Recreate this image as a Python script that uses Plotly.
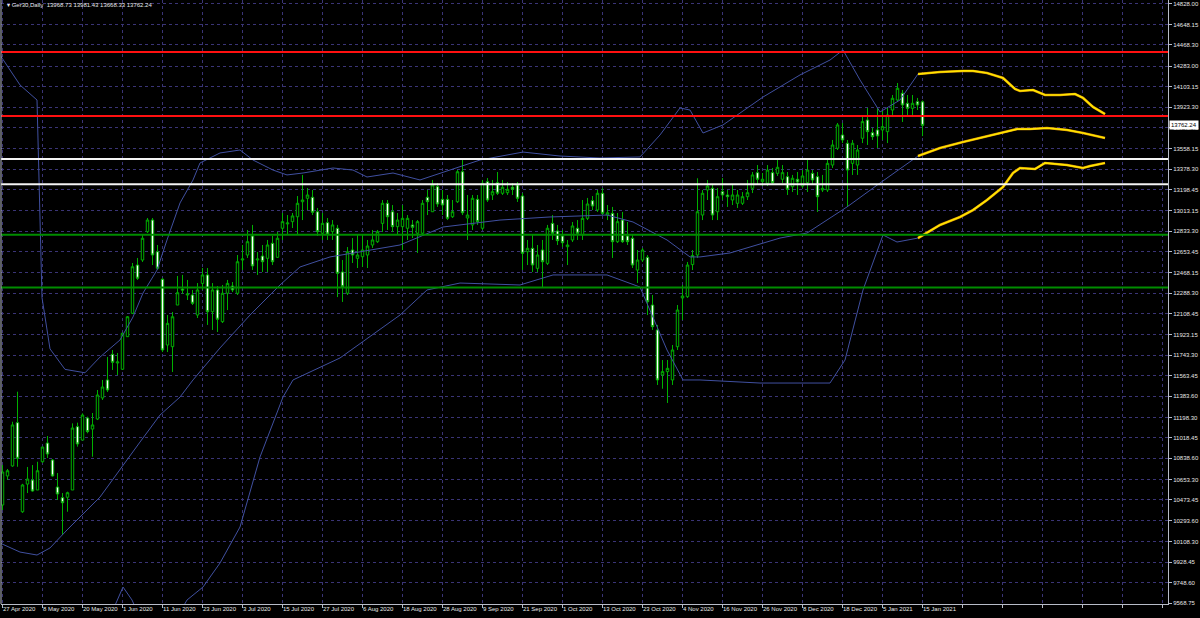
import plotly.graph_objects as go

# ---------------- data ----------------
title_text = "\u25be Ger30,Daily  13968.73 13981.43 13668.33 13762.24"

opens = [10429, 10684, 10772, 11152, 10370, 10613, 10648, 10561, 10809, 10973,
         10824, 10587, 10493, 10497, 10561, 11117, 10999, 11193, 11096, 11184,
         11369, 11527, 11752, 11676, 11621, 11907, 12112, 12536, 12580, 12829,
         12931, 12653, 12411, 11834, 11819, 12185, 12325, 12273, 12273, 12097,
         12375, 12449, 12126, 12317, 12039, 12288, 12352, 12288, 12580, 12624,
         12791, 12580, 12615, 12595, 12727, 12604, 12859, 12897, 12917, 12960,
         13092, 13122, 13131, 13004, 12815, 12908, 12829, 12859, 12475, 12288,
         12668, 12595, 12609, 12624, 12712, 12741, 12902, 13078, 13004, 12873,
         12873, 12859, 12888, 12815, 12815, 13131, 13004, 13224, 13113, 13113,
         12960, 13092, 13355, 12949, 12888, 13113, 12859, 13268, 13151, 13259,
         13166, 13171, 13219, 13239, 13142, 12653, 12683, 12507, 12668, 12551,
         12902, 12835, 12791, 12697, 12756, 12859, 12800, 12946, 13101, 13019,
         13166, 12975, 12990, 12741, 12931, 12791, 12771, 12492, 12580, 12604,
         12185, 11966, 11571, 11600, 11527, 11819, 12247, 12258, 12540, 12624,
         12975, 13195, 13210, 13004, 13180, 13151, 13107, 13078, 13078, 13136,
         13210, 13347, 13268, 13254, 13347, 13341, 13289, 13312, 13224, 13289,
         13230, 13259, 13341, 13312, 13195, 13195, 13414, 13561, 13678, 13605,
         13429, 13414, 13649, 13809, 13698, 13722, 13722, 13707, 13897, 13985,
         14044, 13956, 13912, 13970, 13968.73]
highs = [10780, 10745, 11160, 11424, 10615, 10763, 10780, 10809, 10941, 11035,
         10833, 10710, 10534, 10546, 11146, 11152, 11234, 11205, 11237, 11439,
         11527, 11729, 11790, 11764, 11939, 12088, 12554, 12598, 12800, 12949,
         12949, 12712, 12422, 12097, 12124, 12440, 12449, 12405, 12317, 12378,
         12510, 12510, 12378, 12352, 12361, 12405, 12387, 12624, 12712, 12844,
         12888, 12650, 12712, 12756, 12791, 12826, 12993, 12975, 12993, 13142,
         13327, 13212, 13195, 13037, 12993, 12949, 12931, 12888, 12580, 12694,
         12773, 12800, 12800, 12756, 12844, 12844, 13107, 13107, 13063, 12993,
         13063, 12975, 12931, 12931, 13107, 13195, 13283, 13256, 13195, 13151,
         13107, 13370, 13458, 13151, 13151, 13151, 13283, 13300, 13283, 13353,
         13283, 13265, 13256, 13265, 13168, 12756, 12800, 12712, 12756, 12888,
         12975, 12888, 12844, 12756, 12914, 12931, 13107, 13125, 13142, 13195,
         13212, 13063, 13046, 12993, 13002, 12914, 12800, 12668, 12686, 12624,
         12273, 12010, 11702, 11702, 11834, 12185, 12361, 12563, 12668, 13298,
         13195, 13283, 13239, 13212, 13300, 13195, 13239, 13195, 13177, 13283,
         13353, 13414, 13344, 13414, 13388, 13458, 13414, 13353, 13327, 13353,
         13370, 13458, 13370, 13353, 13327, 13458, 13634, 13783, 13783, 13634,
         13634, 13590, 13853, 13915, 13739, 13915, 13897, 13915, 14029, 14134,
         14073, 14029, 14029, 14003, 13981.43]
lows = [10385, 10649, 10765, 10765, 10360, 10534, 10546, 10561, 10800, 10842,
        10678, 10473, 10166, 10370, 10561, 10941, 10999, 11059, 10853, 11175,
        11351, 11421, 11615, 11570, 11615, 11904, 12106, 12405, 12563, 12817,
        12536, 12493, 11772, 11772, 11597, 12185, 12282, 12229, 12185, 12071,
        12317, 12010, 11966, 11948, 12027, 12141, 12299, 12273, 12493, 12598,
        12493, 12449, 12475, 12475, 12536, 12598, 12756, 12800, 12861, 12800,
        12931, 13019, 12975, 12791, 12756, 12756, 12756, 12255, 12212, 12273,
        12554, 12510, 12519, 12510, 12686, 12730, 12826, 12844, 12826, 12800,
        12668, 12756, 12773, 12642, 12809, 12975, 13002, 13046, 12975, 12931,
        12949, 13081, 12975, 12756, 12844, 12888, 12844, 13090, 13107, 13151,
        13151, 13151, 13151, 13090, 12493, 12536, 12475, 12475, 12343, 12536,
        12756, 12712, 12694, 12536, 12738, 12756, 12756, 12931, 13019, 13002,
        12975, 12931, 12598, 12730, 12730, 12712, 12510, 12378, 12563, 12097,
        11966, 11483, 11450, 11325, 11483, 11790, 12054, 12247, 12492, 12598,
        12931, 13107, 12931, 12931, 13107, 13046, 13063, 13037, 13063, 13107,
        13168, 13239, 13230, 13230, 13239, 13318, 13256, 13151, 13177, 13151,
        13212, 13177, 13239, 13002, 13177, 13177, 13388, 13546, 13607, 13048,
        13327, 13327, 13607, 13590, 13634, 13564, 13634, 13607, 13853, 13967,
        13792, 13853, 13853, 13897, 13668.33]
closes = [10719, 10730, 11132, 10839, 10605, 10657, 10552, 10730, 10938, 10877,
          10684, 10526, 10449, 10537, 11105, 10965, 11219, 11073, 11132, 11395,
          11465, 11439, 11682, 11685, 11937, 12082, 12521, 12420, 12771, 12931,
          12624, 12507, 11790, 12024, 12082, 12293, 12316, 12282, 12200, 12317,
          12449, 12126, 12317, 12060, 12288, 12375, 12317, 12565, 12589, 12741,
          12528, 12589, 12565, 12712, 12565, 12771, 12917, 12905, 12967, 13078,
          13107, 13151, 12999, 12829, 12902, 12809, 12888, 12463, 12346, 12653,
          12624, 12624, 12668, 12703, 12756, 12829, 13078, 12960, 12873, 12931,
          12946, 12946, 12867, 12917, 13078, 13092, 13239, 13072, 13063, 12946,
          13004, 13355, 12995, 12975, 13122, 12917, 13254, 13107, 13180, 13166,
          13219, 13201, 13201, 13122, 12639, 12683, 12536, 12624, 12565, 12859,
          12815, 12750, 12732, 12712, 12879, 12815, 12946, 13072, 13054, 13166,
          12990, 12995, 12741, 12917, 12741, 12741, 12536, 12580, 12668, 12214,
          11995, 11527, 11600, 11629, 11790, 12141, 12264, 12536, 12620, 13004,
          13166, 13230, 12975, 13136, 13151, 13136, 13151, 13151, 13136, 13171,
          13327, 13289, 13289, 13370, 13259, 13394, 13347, 13201, 13298, 13265,
          13318, 13370, 13283, 13136, 13210, 13429, 13590, 13766, 13634, 13370,
          13605, 13546, 13795, 13707, 13663, 13669, 13751, 13853, 14000, 14088,
          13941, 13912, 13956, 13941, 13762.24]

date_labels = ["27 Apr 2020", "8 May 2020", "20 May 2020", "1 Jun 2020", "11 Jun 2020",
               "23 Jun 2020", "3 Jul 2020", "15 Jul 2020", "27 Jul 2020", "6 Aug 2020",
               "18 Aug 2020", "28 Aug 2020", "9 Sep 2020", "21 Sep 2020", "1 Oct 2020",
               "13 Oct 2020", "23 Oct 2020", "4 Nov 2020", "16 Nov 2020", "26 Nov 2020",
               "8 Dec 2020", "18 Dec 2020", "5 Jan 2021", "15 Jan 2021"]

price_ticks = [14828.00, 14648.15, 14468.30, 14283.00, 14103.15, 13923.30, 13743.45,
               13558.15, 13378.30, 13198.45, 13013.15, 12833.30, 12653.45, 12468.15,
               12288.30, 12108.45, 11923.15, 11743.30, 11563.45, 11383.60, 11198.30,
               11018.45, 10838.60, 10653.30, 10473.45, 10293.60, 10108.30, 9928.45,
               9748.60, 9568.75]

# Bollinger band vertices (bar index, price)
upper_bar = [-0.5, 3.5, 6.9, 7.9, 9.5, 12.5, 16.5, 19.5, 23.5, 26.1, 28.1, 30.9, 32.9,
             35.5, 38.1, 39.5, 43.5, 47.5, 50.1, 54.1, 56.9, 60.1, 66.1, 70.1, 72.9, 78.1,
             83.5, 89.5, 95.5, 104.1, 111.5, 119.5, 127.5, 131.5, 135.5, 137.5, 140.1,
             144.1, 152.1, 159.5, 165.5, 168.1, 171.5, 175.5, 179.5, 183.1]
upper_val = [14380, 14117, 13985, 12250, 11800, 11620, 11590, 11728, 11878, 12080, 12290,
             12492, 12756, 13081, 13283, 13432, 13520, 13546, 13458, 13370, 13327, 13344,
             13388, 13370, 13309, 13344, 13283, 13370, 13458, 13528, 13493, 13476, 13485,
             13678, 13915, 13897, 13695, 13766, 14011, 14205, 14336, 14424, 14161, 13880,
             13985, 14213]
middle_bar = [-0.5, 3.5, 6.9, 9.5, 12.9, 19.5, 27.5, 31.5, 35.5, 38.1, 43.5, 49.5, 55.5,
              59.5, 65.5, 71.5, 79.5, 88.1, 99.5, 109.5, 120.9, 126.1, 132.9, 137.5, 139.5,
              145.5, 155.5, 160.9, 168.9, 175.5, 183.1]
middle_val = [10095, 10016, 9990, 10052, 10210, 10499, 10982, 11219, 11377, 11527, 11808,
              12097, 12361, 12519, 12607, 12650, 12712, 12870, 12931, 12958, 12975, 12914,
              12756, 12607, 12607, 12642, 12773, 12817, 13046, 13256, 13493]
lower_bar = [-0.5, 11.5, 19.5, 22.9, 24.1, 25.9, 29.5, 33.5, 36.9, 40.1, 43.5, 47.5, 51.5,
             56.1, 58.1, 67.5, 79.5, 84.9, 91.5, 103.5, 110.1, 120.9, 127.5, 132.9, 136.1,
             139.5, 151.5, 165.5, 168.5, 172.1, 176.1, 178.9, 183.1]
lower_val = [8717, 8541, 9244, 9595, 9709, 9595, 9244, 9332, 9595, 9709, 9920, 10236, 10851,
             11377, 11527, 11720, 12097, 12317, 12378, 12361, 12449, 12449, 12343, 11790,
             11527, 11527, 11500, 11500, 11702, 12317, 12800, 12738, 12773]

# projected bands (yellow)
proj_upper_bar = [183.1, 187.5, 192.1, 194.1, 196.9, 200.1, 202.5, 203.5, 206.1, 208.5,
                  211.5, 214.5, 216.1, 218.1, 220.5]
proj_upper_val = [14213, 14231, 14240, 14240, 14222, 14178, 14082, 14064, 14073, 14029,
                  14029, 14038, 14003, 13924, 13862]
proj_middle_bar = [183.1, 187.5, 192.1, 195.5, 200.1, 202.9, 205.5, 208.9, 212.9, 216.1, 220.5]
proj_middle_val = [13493, 13564, 13616, 13651, 13695, 13730, 13730, 13739, 13722, 13695, 13651]
proj_lower_bar = [183.1, 184.9, 187.5, 191.5, 194.1, 196.9, 200.1, 202.1, 203.5, 206.5,
                  208.5, 212.9, 216.1, 217.5, 220.5]
proj_lower_val = [12773, 12817, 12888, 12958, 13019, 13107, 13221, 13344, 13388, 13379,
                  13432, 13414, 13388, 13405, 13432]

red_levels = [14406, 13845]
white_levels = [13467, 13245]
green_levels = [12802, 12339]
last_price = 13762.24

# ---------------- styling ----------------
BG = "black"
CANDLE_GREEN = "#00b000"
BAND_BLUE = "#4050a0"
GRID = "rgb(58,52,118)"
AXIS = "#b8bcc8"
FONT = "Liberation Sans, Arial, DejaVu Sans"
LABEL_STEP = 8

n = min(len(opens), len(highs), len(lows), len(closes))
bars = list(range(n))

fig = go.Figure()

for bx, by in [(upper_bar, upper_val), (middle_bar, middle_val), (lower_bar, lower_val)]:
    fig.add_trace(go.Scatter(x=bx, y=by, mode="lines",
                             line=dict(color=BAND_BLUE, width=1),
                             hoverinfo="skip", showlegend=False))

fig.add_trace(go.Candlestick(
    x=bars, open=opens[:n], high=highs[:n], low=lows[:n], close=closes[:n],
    increasing=dict(line=dict(color=CANDLE_GREEN, width=1), fillcolor="black"),
    decreasing=dict(line=dict(color=CANDLE_GREEN, width=1), fillcolor="white"),
    whiskerwidth=0, showlegend=False, hoverinfo="skip"))

for bx, by in [(proj_upper_bar, proj_upper_val), (proj_middle_bar, proj_middle_val),
               (proj_lower_bar, proj_lower_val)]:
    fig.add_trace(go.Scatter(x=bx, y=by, mode="lines",
                             line=dict(color="#d08a00", width=2.6),
                             hoverinfo="skip", showlegend=False))
    fig.add_trace(go.Scatter(x=bx, y=by, mode="lines",
                             line=dict(color="#ffe400", width=1.7),
                             hoverinfo="skip", showlegend=False))

shapes = []
for lv in red_levels:
    shapes.append(dict(type="line", xref="paper", x0=0, x1=1, yref="y", y0=lv, y1=lv,
                       line=dict(color="#ff1010", width=2), layer="above"))
for lv in white_levels:
    shapes.append(dict(type="line", xref="paper", x0=0, x1=1, yref="y", y0=lv, y1=lv,
                       line=dict(color="#f4f4f4", width=2), layer="above"))
for lv in green_levels:
    shapes.append(dict(type="line", xref="paper", x0=0, x1=1, yref="y", y0=lv, y1=lv,
                       line=dict(color="#008c00", width=2), layer="above"))
shapes.append(dict(type="line", xref="paper", yref="paper", x0=0, x1=0, y0=0, y1=1,
                   line=dict(color=AXIS, width=1), layer="above"))

x_ticks = list(range(0, 233, LABEL_STEP))
annotations = []
for k, lab in enumerate(date_labels):
    annotations.append(dict(x=k * LABEL_STEP, y=0, xref="x", yref="paper",
                            text=lab, showarrow=False, xanchor="left", yanchor="top",
                            xshift=-1, yshift=-1, borderpad=0,
                            font=dict(family=FONT, size=6, color="#e6e6e6")))
annotations.append(dict(x=0, y=1, xref="paper", yref="paper", text=title_text,
                        showarrow=False, xanchor="left", yanchor="top",
                        xshift=5, yshift=-1, borderpad=0,
                        font=dict(family=FONT, size=6, color="#e6e6e6")))
annotations.append(dict(x=1, y=last_price, xref="paper", yref="y",
                        text=f"{last_price:.2f}", showarrow=False,
                        xanchor="left", yanchor="middle", xshift=1,
                        bgcolor="white", borderpad=1,
                        font=dict(family=FONT, size=6, color="black")))

fig.update_layout(
    width=1200, height=618,
    margin=dict(l=1, r=32, t=0, b=14, autoexpand=False),
    paper_bgcolor=BG, plot_bgcolor=BG,
    showlegend=False,
    shapes=shapes, annotations=annotations,
    xaxis=dict(range=[-0.3, 233.1], tickvals=x_ticks, ticktext=[""] * len(x_ticks),
               showgrid=True, gridcolor=GRID, griddash="3px,3px", gridwidth=1,
               ticks="outside", ticklen=3, tickcolor=AXIS, automargin=False,
               showline=True, linecolor=AXIS, linewidth=1, zeroline=False,
               rangeslider=dict(visible=False), fixedrange=True),
    yaxis=dict(side="right", range=[9560, 14863], tickvals=price_ticks,
               ticktext=[f"{v:.2f}" for v in price_ticks],
               tickfont=dict(family=FONT, size=6, color="#e6e6e6"),
               showgrid=True, gridcolor=GRID, griddash="3px,3px", gridwidth=1,
               ticks="outside", ticklen=3, tickcolor=AXIS, automargin=False,
               showline=True, linecolor=AXIS, linewidth=1, zeroline=False,
               fixedrange=True),
)

fig.write_html("out.html", config={"displayModeBar": False},
               post_script="document.body.style.margin='0px';document.body.style.overflow='hidden';")
